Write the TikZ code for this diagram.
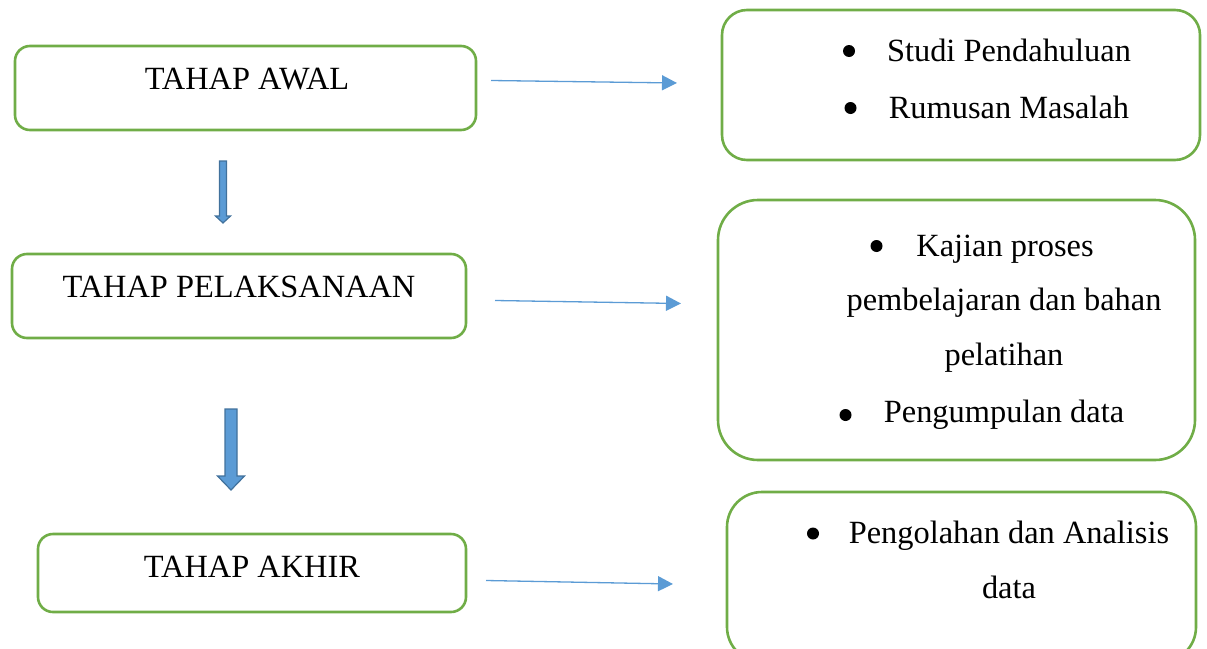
\documentclass[tikz,border=0pt]{standalone}
\usepackage{fontspec}
\setmainfont{Liberation Serif}
\usepackage{tikz}
\usetikzlibrary{arrows.meta,positioning}

\definecolor{boxgreen}{HTML}{70AD47}
\definecolor{linkblue}{HTML}{5B9BD5}
\definecolor{arrowblue}{HTML}{5B9BD5}
\definecolor{arrowedge}{HTML}{41719C}

\tikzset{
    stage/.style={draw=boxgreen,line width=2.6pt,rectangle,rounded corners=#1},
    stage/.default=15pt,
    txt/.style={anchor=base,inner sep=0pt,font=\fontsize{32.4}{38}\selectfont},
    dot/.style={circle,fill=black,inner sep=0pt,minimum size=12pt},
    link/.style={draw=linkblue,line width=1.3pt,-{Triangle[length=15pt,width=15pt]}},
    blockarrow/.style={fill=arrowblue,draw=arrowedge,line width=1.2pt}
}

\begin{document}
\begin{tikzpicture}[x=1pt,y=-1pt]
    \useasboundingbox (0,0) rectangle (1207,648);
    \clip (0,0) rectangle (1207,648);

    % stages on the left
    \node [stage,minimum width=461pt,minimum height=84pt] (awal) at (245.5,88) {};
    \node [stage,minimum width=454pt,minimum height=84pt] (pelaksanaan) at (239,296) {};
    \node [stage,minimum width=428pt,minimum height=78pt] (akhir) at (252,573) {};
    \node [txt] (awalT) at (247,89.3) {TAHAP AWAL};
    \node [txt] (pelaksanaanT) at (239,297.5) {TAHAP PELAKSANAAN};
    \node [txt] (akhirT) at (252,577.5) {TAHAP AKHIR};

    % boxes on the right
    \node [stage=25pt,minimum width=478pt,minimum height=150pt] (ketAwal) at (961,85) {};
    \node [stage=40pt,minimum width=477pt,minimum height=260pt] (ketPelaksanaan) at (956.5,330) {};
    \node [stage=35pt,minimum width=469pt,minimum height=170pt] (ketAkhir) at (961.5,577) {};

    \node [txt] (studi) at (1009,61.7) {Studi Pendahuluan};
    \node [txt] (rumusan) at (1009,118.3) {Rumusan Masalah};
    \node [dot] (b1) at (849,51) {};
    \node [dot] (b2) at (850.5,108) {};

    \node [txt] (kajian) at (1005,256.7) {Kajian proses};
    \node [txt] (pembelajaran) at (1004,310.5) {pembelajaran dan bahan};
    \node [txt] (pelatihan) at (1004,365.5) {pelatihan};
    \node [txt] (pengumpulan) at (1004,422) {Pengumpulan data};
    \node [dot] (b3) at (876.5,246) {};
    \node [dot] (b4) at (845.5,415) {};

    \node [txt] (pengolahan) at (1009,543) {Pengolahan dan Analisis};
    \node [txt] (data) at (1009,598) {data};
    \node [dot] (b5) at (813,533.5) {};

    % thin arrows
    \coordinate (a1s) at (491,80.5);
    \coordinate (a1e) at (677,83);
    \coordinate (a2s) at (495,300.5);
    \coordinate (a2e) at (681,303.5);
    \coordinate (a3s) at (486,580.5);
    \coordinate (a3e) at (673,584);
    \draw [link] (a1s) -- (a1e);
    \draw [link] (a2s) -- (a2e);
    \draw [link] (a3s) -- (a3e);

    % block arrows
    \draw [blockarrow] (219.5,161) -- (226.5,161) -- (226.5,216) -- (230.5,216)
        -- (223,223) -- (215.5,216) -- (219.5,216) -- cycle;
    \draw [blockarrow] (225,409) -- (237,409) -- (237,476) -- (244.5,476)
        -- (231,490) -- (217.5,476) -- (225,476) -- cycle;
\end{tikzpicture}
\end{document}
